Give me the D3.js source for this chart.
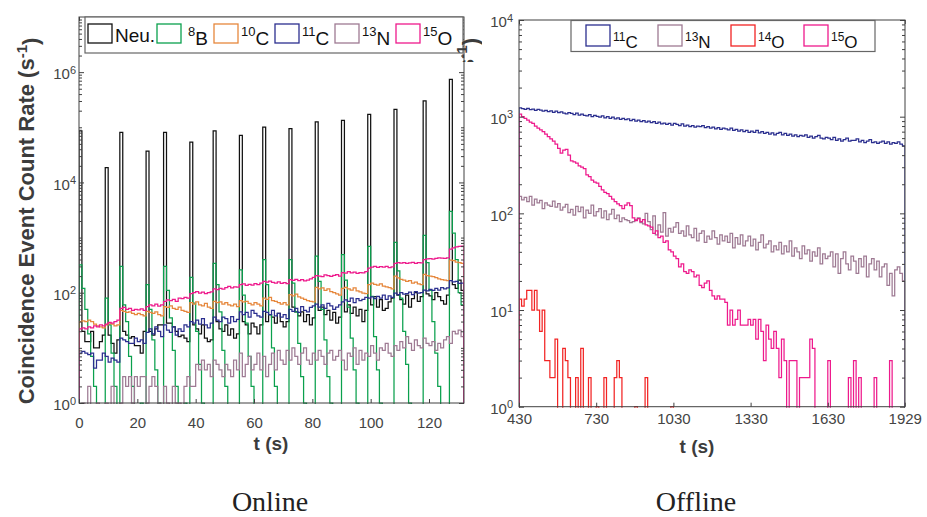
<!DOCTYPE html>
<html>
<head>
<meta charset="utf-8">
<script src="https://cdn.jsdelivr.net/npm/d3@7"></script>
<style>
  body { margin: 0; background: #fff; }
  svg { display: block; font-family: "Liberation Sans", Arial, sans-serif; }
</style>
</head>
<body>
<script>
// ---------- data: Online (1 s bins starting at 0 s) ----------
const onlineT0 = 0, onlineDt = 1;
const onlineNeu = [
  86000, 20, 13, 13, 20, 10, 10, 13, 17, 18600,
  17, 12, 8, 14, 81000, 20, 17, 15, 16, 11,
  11, 8, 20, 37000, 20, 17, 22, 26, 26, 81000,
  28, 28, 24, 20, 16, 17, 15, 13, 54000, 26,
  22, 18, 26, 15, 13, 14, 86000, 30, 22, 20,
  26, 17, 22, 15, 18, 71600, 30, 26, 18, 28,
  24, 18, 26, 101000, 30, 40, 36, 28, 42, 30,
  24, 30, 94600, 55, 45, 38, 45, 30, 40, 26,
  35, 125000, 48, 55, 40, 48, 32, 44, 28, 36,
  134000, 45, 60, 42, 55, 38, 50, 30, 48, 172000,
  60, 85, 55, 75, 48, 52, 68, 80, 212000, 90,
  75, 62, 90, 55, 78, 100, 70, 85, 301000, 95,
  88, 75, 100, 85, 72, 62, 90, 737000, 140, 120,
  170, 110
];
const onlineB8 = [
  320, 120, 50, 18, 7, 2, 0, 0, 0, 80,
  26, 8, 2, 0, 300, 60, 30, 7, 2, 0,
  0, 1, 0, 140, 50, 14, 4, 1, 0, 300,
  110, 35, 9, 2, 0, 0, 1, 0, 190, 65,
  20, 5, 1, 0, 0, 0, 340, 140, 45, 9,
  2, 0, 0, 0, 0, 260, 90, 28, 7, 2,
  0, 0, 0, 400, 140, 40, 10, 2, 0, 0,
  0, 0, 400, 150, 45, 12, 3, 1, 0, 0,
  0, 460, 160, 50, 14, 3, 1, 0, 0, 0,
  490, 170, 55, 15, 4, 1, 0, 0, 0, 690,
  86, 16, 4, 1, 0, 0, 0, 0, 820, 250,
  80, 20, 5, 1, 0, 0, 0, 0, 1100, 350,
  110, 30, 8, 2, 0, 0, 0, 3000, 1200, 400,
  100, 60
];
const onlineC10 = [
  30, 31, 30, 32, 30, 27, 25, 24, 23, 26,
  28, 27, 25, 26, 48, 46, 44, 45, 42, 40,
  42, 40, 38, 46, 44, 42, 45, 40, 38, 56,
  54, 58, 52, 50, 55, 48, 46, 44, 66, 62,
  68, 60, 58, 64, 55, 52, 70, 66, 68, 62,
  66, 60, 58, 62, 56, 72, 68, 70, 64, 60,
  66, 62, 58, 80, 76, 82, 72, 70, 66, 62,
  66, 60, 92, 88, 94, 84, 80, 76, 72, 70,
  68, 125, 118, 122, 110, 118, 105, 100, 95, 90,
  120, 125, 118, 112, 123, 108, 104, 98, 96, 140,
  150, 142, 138, 145, 132, 128, 124, 118, 200, 185,
  175, 170, 160, 165, 150, 155, 145, 140, 215, 205,
  200, 195, 188, 178, 172, 170, 165, 390, 380, 360,
  350, 340
];
const onlineC11 = [
  8, 8.6, 8, 7.5, 8, 4.3, 6, 6, 8, 7,
  5.5, 6.5, 6, 5.5, 15, 14, 13, 12, 12, 15,
  13, 14, 12, 19, 22, 18, 24, 20, 16, 26,
  21, 19, 24, 17, 22, 20, 26, 24, 30, 28,
  32, 27, 34, 26, 23, 28, 36, 32, 30, 36,
  34, 28, 37, 30, 33, 45, 40, 44, 36, 48,
  42, 38, 36, 46, 44, 40, 48, 38, 42, 36,
  40, 34, 50, 46, 52, 44, 56, 48, 45, 54,
  58, 62, 55, 60, 52, 64, 58, 50, 55, 60,
  68, 74, 70, 80, 66, 78, 72, 76, 82, 80,
  84, 78, 86, 80, 90, 76, 88, 82, 98, 92,
  100, 94, 96, 102, 92, 105, 98, 100, 112, 108,
  115, 110, 120, 112, 124, 118, 122, 165, 158, 160,
  148, 150
];
const onlineN13 = [
  0, 1, 0, 2, 0, 0, 1, 0, 0, 1,
  0, 2, 0, 0, 1, 3, 2, 3, 1, 3,
  2, 3, 3, 1, 2, 3, 2, 1, 0, 2,
  1, 0, 2, 1, 1, 0, 2, 3, 2, 2,
  5, 4, 6, 4, 5, 3, 6, 5, 4, 3,
  5, 4, 3, 6, 4, 8, 3, 5, 7, 4,
  5, 8, 4, 7, 3, 5, 8, 4, 9, 6,
  5, 9, 6, 10, 7, 5, 8, 10, 6, 5,
  8, 6, 9, 7, 5, 8, 9, 6, 7, 9,
  6, 4, 8, 7, 10, 5, 9, 6, 8, 7,
  11, 8, 6, 10, 9, 12, 8, 7, 11, 9,
  13, 10, 16, 12, 9, 14, 11, 10, 15, 12,
  11, 13, 9, 12, 10, 14, 16, 12, 20, 18,
  21, 16
];
const onlineO15 = [
  22, 23, 22, 24, 23, 25, 24, 26, 25, 27,
  29, 28, 30, 32, 52, 54, 50, 52, 48, 50,
  49, 51, 48, 56, 60, 58, 62, 57, 60, 70,
  74, 72, 76, 70, 80, 78, 82, 80, 96, 100,
  105, 98, 102, 96, 100, 104, 118, 114, 120, 116,
  124, 130, 122, 128, 126, 140, 144, 136, 142, 138,
  146, 140, 150, 160, 156, 162, 154, 150, 158, 148,
  152, 146, 172, 168, 175, 166, 172, 164, 170, 178,
  190, 205, 200, 196, 210, 204, 198, 206, 212, 200,
  232, 226, 240, 230, 236, 224, 232, 228, 240, 280,
  290, 300, 288, 296, 292, 300, 286, 294, 340, 350,
  344, 352, 340, 348, 356, 342, 350, 346, 400, 410,
  415, 405, 420, 430, 425, 418, 430, 620, 650, 680,
  690, 700
];

// ---------- data: Offline (10 s bins starting at 430 s) ----------
const offlineT0 = 430, offlineDt = 10;
const offlineC11 = [
  1230, 1210, 1190, 1215, 1180, 1200, 1160, 1190, 1170, 1140,
  1160, 1130, 1150, 1110, 1140, 1100, 1120, 1090, 1070, 1100,
  1080, 1050, 1090, 1040, 1060, 1030, 1020, 1050, 1000, 1030,
  1010, 990, 1020, 970, 1000, 960, 990, 950, 970, 940,
  960, 930, 950, 910, 940, 900, 920, 890, 910, 880,
  900, 870, 890, 850, 880, 840, 860, 830, 850, 820,
  850, 830, 810, 840, 800, 820, 790, 810, 780, 800,
  790, 810, 770, 790, 760, 780, 750, 770, 740, 760,
  750, 730, 760, 720, 740, 710, 730, 700, 720, 690,
  710, 690, 720, 680, 700, 670, 690, 660, 680, 650,
  670, 690, 650, 670, 640, 660, 630, 650, 620, 640,
  630, 650, 610, 630, 600, 620, 640, 600, 590, 610,
  600, 580, 610, 570, 590, 560, 580, 600, 560, 570,
  570, 590, 550, 570, 540, 560, 580, 540, 550, 530,
  545, 560, 530, 550, 520, 540, 530, 550, 520, 500
];
const offlineN13 = [
  150, 138, 146, 132, 150, 122, 140, 128, 136, 112,
  128, 122, 118, 134, 116, 126, 108, 116, 124, 102,
  110, 96, 118, 104, 116, 90, 108, 100, 122, 94,
  104, 112, 90, 106, 86, 98, 110, 88, 96, 82,
  90, 86, 84, 80, 82, 86, 90, 80, 78, 100,
  82, 68, 94, 60, 76, 64, 102, 58, 70, 64,
  72, 80, 62, 66, 58, 74, 60, 56, 70, 52,
  62, 66, 50, 58, 54, 66, 56, 48, 60, 52,
  58, 50, 62, 44, 56, 48, 60, 46, 52, 58,
  46, 54, 42, 50, 60, 44, 48, 52, 40, 46,
  42, 50, 38, 46, 40, 52, 36, 44, 40, 34,
  46, 38, 42, 32, 40, 36, 44, 30, 38, 34,
  36, 40, 28, 38, 24, 34, 40, 30, 26, 36,
  32, 24, 34, 28, 36, 22, 30, 34, 26, 32,
  22, 28, 30, 18, 24, 14, 26, 28, 24, 20
];
const offlineO14 = [
  13, 11, 13, 16, 16, 10, 16, 10, 6, 10,
  3, 3, 2, 2, 5, 0, 0, 4, 3, 2,
  0, 0, 2, 0, 4, 0, 0, 2, 0, 0,
  1, 0, 0, 2, 0, 0, 0, 2, 3, 2,
  0, 0, 0, 0, 0, 1, 0, 0, 0, 2,
  0, 0, 0, 0, 0, 0, 0, 0, 0, 1,
  0, 0, 0, 0, 0, 0, 0, 0, 0, 0,
  0, 0, 0, 0, 0, 0, 0, 0, 0, 0,
  0, 0, 0, 0, 0, 0, 0, 0, 0, 0,
  0, 0, 0, 0, 0, 0, 0, 0, 0, 0,
  0, 0, 0, 0, 0, 0, 0, 0, 0, 0,
  0, 0, 0, 0, 0, 0, 0, 0, 0, 0,
  0, 0, 0, 0, 0, 0, 0, 0, 0, 0,
  0, 0, 0, 0, 0, 0, 0, 0, 0, 0,
  0, 0, 0, 0, 0, 0, 0, 0, 0, 0
];
const offlineO15 = [
  1060, 1000, 960, 920, 880, 850, 800, 760, 730, 700,
  660, 620, 590, 560, 520, 470, 420, 450, 460, 400,
  350, 340, 330, 310, 300, 290, 250, 240, 220, 210,
  205, 190, 175, 165, 160, 150, 140, 132, 125, 120,
  112, 122, 128, 120, 90, 84, 88, 82, 86, 76,
  74, 72, 62, 66, 56, 58, 50, 52, 42, 40,
  36, 34, 28, 30, 25, 24, 26, 25, 22, 23,
  18, 17, 19, 20, 16, 14, 13, 14, 13, 13,
  12, 7, 10, 7, 8, 10, 7, 7, 7, 8,
  7, 8, 5, 8, 6, 3, 7, 5, 4, 6,
  4, 2, 5, 3, 0, 3, 3, 3, 0, 2,
  2, 2, 2, 5, 4, 0, 0, 0, 0, 0,
  3, 0, 0, 0, 0, 0, 0, 0, 2, 0,
  3, 0, 2, 0, 0, 0, 0, 0, 2, 0,
  0, 0, 0, 0, 3, 0, 0, 0, 0, 0
];

const onlineTicks = [0, 20, 40, 60, 80, 100, 120];
const offlineTicks = [430, 730, 1030, 1330, 1630, 1929];

const colors = {
  neu: "#111111", b8: "#0aa04d", c10: "#e6873c", c11: "#2b2f8f",
  n13: "#9e7a93", o14: "#f22424", o15: "#ee1a8c"
};

const W = 927, H = 517;
const svg = d3.select("body").append("svg").attr("width", W).attr("height", H);
const axisColor = "#404040", labelColor = "#444";

function supLabel(sel, base, sup, size) {
  sel.text(null);
  sel.append("tspan").text(base);
  sel.append("tspan").attr("dy", "-0.5em").attr("font-size", size).text(sup);
}

function panel(p) {
  const g = svg.append("g");
  const x = d3.scaleLinear().domain(p.xDomain).range([p.x0, p.x1]);
  const y = d3.scaleLog().domain(p.yDomain).range([p.y0, p.y1]);
  const floor = p.yDomain[0] / 20;

  g.append("clipPath").attr("id", p.id).append("rect")
    .attr("x", p.x0).attr("y", p.y1).attr("width", p.x1 - p.x0).attr("height", p.y0 - p.y1 + 1);

  const line = d3.line().x(d => x(d[0])).y(d => y(d[1])).curve(d3.curveStepAfter);
  const plot = g.append("g").attr("clip-path", `url(#${p.id})`);
  p.series.forEach(s => {
    const pts = [[p.t0, floor]];
    s.values.forEach((v, i) => pts.push([p.t0 + i * p.dt, v > 0 ? v : floor]));
    pts.push([p.t0 + s.values.length * p.dt, floor]);
    plot.append("path").attr("d", line(pts))
      .attr("fill", "none").attr("stroke", s.color)
      .attr("stroke-width", 1.25).attr("stroke-linejoin", "miter");
  });

  // minor log ticks
  const minor = [];
  for (let e = Math.round(Math.log10(p.yDomain[0])); e < Math.round(Math.log10(p.yDomain[1])); e++) {
    for (let k = 1; k <= 9; k++) {
      const v = k * Math.pow(10, e);
      if (!p.yMajor.includes(v)) minor.push(v);
    }
  }

  const style = a => {
    a.select(".domain").remove();
    a.selectAll("line").attr("stroke", axisColor);
    a.selectAll("text").attr("fill", labelColor).attr("font-size", 15)
      .attr("font-family", "Liberation Sans, Arial, sans-serif");
  };

  g.append("g").attr("transform", `translate(0,${p.y0})`)
    .call(d3.axisBottom(x).tickValues(p.xTicks).tickSizeInner(-4).tickSizeOuter(0)
      .tickPadding(p.xPad).tickFormat(d3.format("d"))).call(style);
  g.append("g").attr("transform", `translate(0,${p.y1})`)
    .call(d3.axisTop(x).tickValues(p.xTicks).tickSizeInner(-4).tickSizeOuter(0).tickFormat("")).call(style);

  const yl = g.append("g").attr("transform", `translate(${p.x0},0)`)
    .call(d3.axisLeft(y).tickValues(p.yMajor).tickSizeInner(-5).tickSizeOuter(0)
      .tickPadding(p.yPad).tickFormat("")).call(style);
  yl.selectAll("text").attr("dy", "0.45em")
    .each(function(d) { supLabel(d3.select(this), "10", Math.round(Math.log10(d)), "11px"); });
  g.append("g").attr("transform", `translate(${p.x0},0)`)
    .call(d3.axisLeft(y).tickValues(minor).tickSizeInner(-3).tickSizeOuter(0).tickFormat("")).call(style);
  g.append("g").attr("transform", `translate(${p.x1},0)`)
    .call(d3.axisRight(y).tickValues(p.yMajor).tickSizeInner(-5).tickSizeOuter(0).tickFormat("")).call(style);
  g.append("g").attr("transform", `translate(${p.x1},0)`)
    .call(d3.axisRight(y).tickValues(minor).tickSizeInner(-3).tickSizeOuter(0).tickFormat("")).call(style);

  g.append("rect").attr("x", p.x0).attr("y", p.y1)
    .attr("width", p.x1 - p.x0).attr("height", p.y0 - p.y1)
    .attr("fill", "none").attr("stroke", axisColor).attr("stroke-width", 1);

  // legend
  const lg = g.append("g");
  lg.append("rect").attr("x", p.legend.x).attr("y", p.legend.y)
    .attr("width", p.legend.w).attr("height", p.legend.h)
    .attr("fill", "#fff").attr("stroke", "#666").attr("stroke-width", 1.2);
  p.series.forEach((s, i) => {
    const sx = p.legend.items[i];
    lg.append("rect").attr("x", sx).attr("y", p.legend.sy)
      .attr("width", 24).attr("height", p.legend.sh)
      .attr("fill", "none").attr("stroke", s.color).attr("stroke-width", 1.3);
    const t = lg.append("text").attr("x", sx + 27 + (s.gap || 0)).attr("y", p.legend.ty)
      .attr("font-size", p.legend.fs).attr("fill", "#111");
    if (s.sup) {
      t.append("tspan").attr("dy", "-0.45em")
        .attr("font-size", Math.round(p.legend.fs * 0.7) + "px").text(s.sup);
      t.append("tspan").attr("dy", "0.45em").text(s.base);
    } else t.text(s.base);
  });

  g.append("text").attr("x", p.xlabX).attr("y", p.xlabY).attr("text-anchor", "middle")
    .attr("font-size", 19).attr("font-weight", "bold").attr("fill", "#3c3c3c").text("t (s)");
  return { x, y };
}

panel({
  id: "clipOnline", x0: 79, x1: 464, y0: 403, y1: 17,
  xDomain: [0, 132], yDomain: [1, 1e7], t0: onlineT0, dt: onlineDt,
  xTicks: onlineTicks, xPad: 14, yPad: 3, yMajor: [1, 1e2, 1e4, 1e6],
  xlabX: 271, xlabY: 450,
  series: [
    { values: onlineNeu, color: colors.neu, base: "Neu." },
    { values: onlineB8, color: colors.b8, base: "B", sup: "8", gap: 4 },
    { values: onlineC10, color: colors.c10, base: "C", sup: "10" },
    { values: onlineC11, color: colors.c11, base: "C", sup: "11" },
    { values: onlineN13, color: colors.n13, base: "N", sup: "13" },
    { values: onlineO15, color: colors.o15, base: "O", sup: "15" }
  ],
  legend: { x: 85, y: 17, w: 378, h: 36, sy: 24, sh: 19, ty: 42, fs: 19,
    items: [88, 157, 214, 275, 335, 396] }
});

// the offline panel's y-label peeks out between the two panels
svg.append("clipPath").attr("id", "fragclip").append("rect")
  .attr("x", 452).attr("y", 30).attr("width", 30).attr("height", 32);
svg.append("g").attr("clip-path", "url(#fragclip)")
  .append("text").attr("transform", "translate(474,38) rotate(-90)").attr("text-anchor", "end")
  .attr("font-size", 22).attr("font-weight", "bold").attr("fill", "#3c3c3c")
  .call(t => { t.append("tspan").text("(s");
    t.append("tspan").attr("dy", "-0.5em").attr("font-size", "15px").text("-1");
    t.append("tspan").attr("dy", "0.5em").text(")"); });

panel({
  id: "clipOffline", x0: 519, x1: 905, y0: 406.7, y1: 20,
  xDomain: [430, 1930], yDomain: [1, 1e4], t0: offlineT0, dt: offlineDt,
  xTicks: offlineTicks, xPad: 7, yPad: 6, yMajor: [1, 10, 100, 1000, 1e4],
  xlabX: 697, xlabY: 453,
  series: [
    { values: offlineC11, color: colors.c11, base: "C", sup: "11" },
    { values: offlineN13, color: colors.n13, base: "N", sup: "13" },
    { values: offlineO14, color: colors.o14, base: "O", sup: "14" },
    { values: offlineO15, color: colors.o15, base: "O", sup: "15" }
  ],
  legend: { x: 571, y: 20.5, w: 304, h: 31, sy: 25, sh: 21, ty: 46, fs: 17,
    items: [586, 658, 731, 804] }
});

// y label of the online panel
svg.append("text").attr("transform", "translate(34,221) rotate(-90)")
  .attr("text-anchor", "middle").attr("font-size", 22).attr("font-weight", "bold")
  .attr("fill", "#3c3c3c")
  .call(t => { t.append("tspan").text("Coincidence Event Count Rate (s");
    t.append("tspan").attr("dy", "-0.5em").attr("font-size", "15px").text("-1");
    t.append("tspan").attr("dy", "0.5em").text(")"); });

// panel captions
[["Online", 270], ["Offline", 696]].forEach(([s, cx]) => {
  svg.append("text").attr("x", cx).attr("y", 511).attr("text-anchor", "middle")
    .style("font-family", "'Liberation Serif', 'DejaVu Serif', serif")
    .attr("font-size", 28).attr("fill", "#222").text(s);
});
</script>
</body>
</html>
